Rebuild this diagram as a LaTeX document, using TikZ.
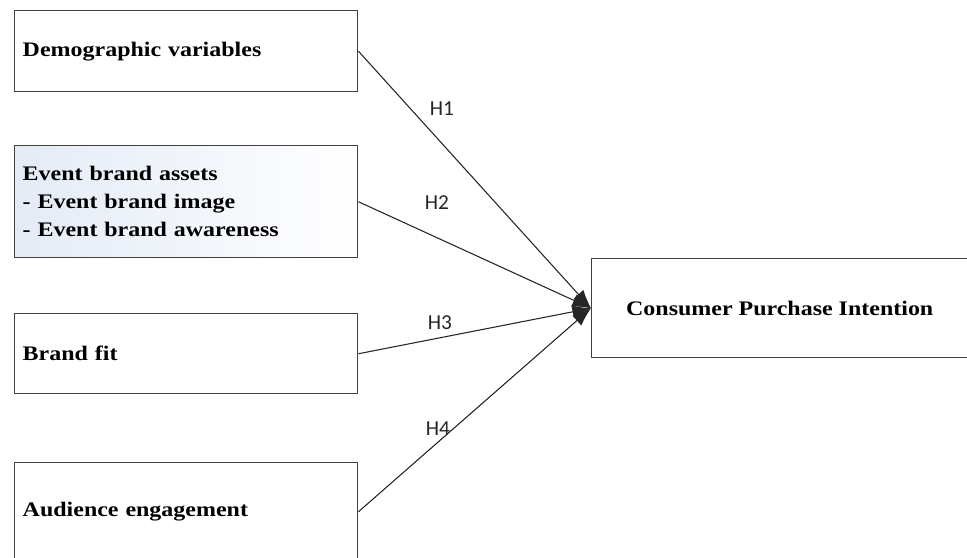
\documentclass[tikz,border=0pt]{standalone}
\usepackage{fontspec}
\setmainfont{Liberation Serif}
\newfontfamily\boxfont[FakeStretch=1.16]{Liberation Serif}
\newfontfamily\labfont{Carlito}
\usetikzlibrary{arrows.meta}
\definecolor{pale}{RGB}{228,235,246}
\begin{document}
\begin{tikzpicture}[x=0.75pt,y=-0.75pt,
  box/.style={draw=black!75, line width=1.1pt, rectangle, inner xsep=6pt, inner ysep=0pt,
    minimum width=257.25pt, text width=245.25pt, align=left, anchor=north west,
    font=\boxfont\fontsize{15.5pt}{21pt}\selectfont\bfseries},
  outbox/.style={draw=black!75, line width=1.1pt, rectangle, inner sep=0pt,
    minimum width=282pt, minimum height=74.25pt, align=center, anchor=north west,
    font=\boxfont\fontsize{15.5pt}{21pt}\selectfont\bfseries},
  conn/.style={draw=black!85, line width=0.8pt, -{Latex[length=14pt,width=10pt]}},
  hlab/.style={font=\labfont\fontsize{16pt}{18pt}\selectfont, text=black!85, inner sep=0pt}]
\useasboundingbox (0,0) rectangle (967,557);
\fill[white] (0,0) rectangle (967,557);
\node[box, minimum height=60.75pt] (dem) at (14,10) {Demographic variables};
\node[box, minimum height=84pt, left color=pale, right color=white] (ebr) at (14,145) {Event brand assets\\- Event brand image\\- Event brand awareness};
\node[box, minimum height=60pt] (fit) at (14,313) {Brand fit};
\node[box, minimum height=73.5pt] (aud) at (14,462) {Audience engagement};
\node[outbox] (cpi) at (591,258) {Consumer Purchase Intention};
\draw[conn] (dem.east) -- (cpi.west);
\draw[conn] (ebr.east) -- (cpi.west);
\draw[conn] (fit.east) -- (cpi.west);
\draw[conn] (aud.east) -- (cpi.west);
\node[hlab] (h1) at (442,109) {H1};
\node[hlab] (h2) at (437,203) {H2};
\node[hlab] (h3) at (440,323) {H3};
\node[hlab] (h4) at (438,429) {H4};
\end{tikzpicture}
\end{document}
